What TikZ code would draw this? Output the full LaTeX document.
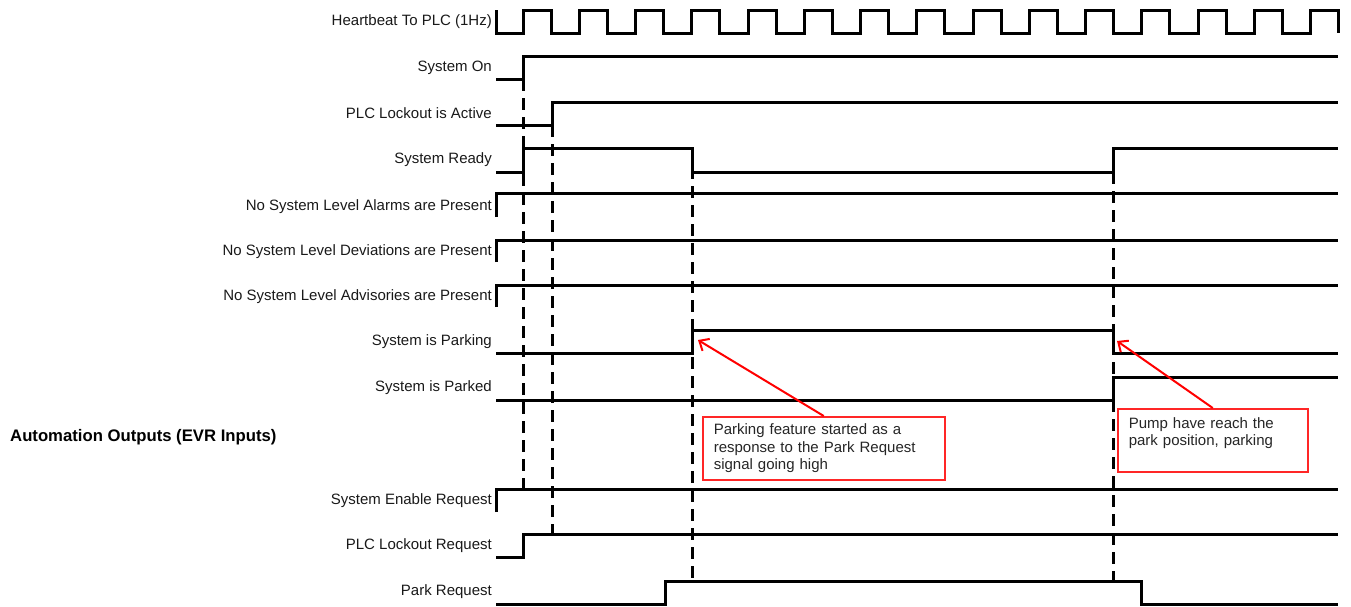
\documentclass[tikz,border=0pt]{standalone}
\usepackage{fontspec}
\setmainfont{Liberation Sans}
\usetikzlibrary{arrows.meta}
\begin{document}
\begin{tikzpicture}[x=1pt,y=-1pt,
  sig/.style={line width=3pt, black, line join=miter},
  guide/.style={line width=3pt, black, dash pattern=on 12pt off 7pt},
  lbl/.style={anchor=east, inner sep=0pt, text=black!90, font=\fontsize{15}{17.5}\selectfont},
  grp/.style={anchor=west, inner sep=0pt, text=black, font=\bfseries\fontsize{16.7}{20}\selectfont},
  annbox/.style={draw=red!85!white, line width=1.5pt, fill=white, anchor=north west,
    inner xsep=11pt, inner ysep=0pt, minimum height=63pt, align=left,
    text=black!85, font=\fontsize{15}{17.5}\selectfont},
  annarrow/.style={red, line width=2pt, -{Straight Barb[length=8pt,width=14pt,line width=2pt]}}
]
\useasboundingbox (0,0) rectangle (1351,606);

% labels
\node[lbl] (lhb)  at (492,22)  {Heartbeat To PLC (1Hz)};
\node[lbl] (lon)  at (492,68)  {System On};
\node[lbl] (llk)  at (492,113) {PLC Lockout is Active};
\node[lbl] (lrdy) at (492,160) {System Ready};
\node[lbl] (lal)  at (492,207) {No System Level Alarms are Present};
\node[lbl] (ldev) at (492,252) {No System Level Deviations are Present};
\node[lbl] (ladv) at (492,297) {No System Level Advisories are Present};
\node[lbl] (lpkg) at (492,342) {System is Parking};
\node[lbl] (lpkd) at (492,388) {System is Parked};
\node[grp] (lauto) at (10,437) {Automation Outputs (EVR Inputs)};
\node[lbl] (len)  at (492,501) {System Enable Request};
\node[lbl] (llr)  at (492,546) {PLC Lockout Request};
\node[lbl] (lpr)  at (492,592) {Park Request};

% guide lines
\draw[guide] (523,79) -- (523,489);
\draw[guide] (552,125) -- (552,534);
\draw[guide] (692,148) -- (692,581);
\draw[guide] (1113,172) -- (1113,581);

% heartbeat
\draw[sig] (496,10) -- (496,33)
  foreach \k in {0,...,14} {
    -- ({523+56.25*\k},33) -- ({523+56.25*\k},10)
    -- ({551+56.25*\k},10) -- ({551+56.25*\k},33) };

% signals
\draw[sig] (496,79) -- (523,79) -- (523,56) -- (1338,56);
\draw[sig] (496,125) -- (552,125) -- (552,102) -- (1338,102);
\draw[sig] (496,172) -- (523,172) -- (523,148) -- (692,148) -- (692,172)
  -- (1113,172) -- (1113,148) -- (1338,148);
\draw[sig] (496,217) -- (496,193) -- (1338,193);
\draw[sig] (496,262) -- (496,240) -- (1338,240);
\draw[sig] (496,307) -- (496,285) -- (1338,285);
\draw[sig] (496,353) -- (692,353) -- (692,330) -- (1113,330) -- (1113,353) -- (1338,353);
\draw[sig] (496,400) -- (1113,400) -- (1113,377) -- (1338,377);
\draw[sig] (496,512) -- (496,489) -- (1338,489);
\draw[sig] (496,557) -- (523,557) -- (523,534) -- (1338,534);
\draw[sig] (496,604) -- (665,604) -- (665,581) -- (1141,581) -- (1141,604) -- (1338,604);

% annotations
\node[annbox, text width=220pt] (ann1) at (702,416)
  {Parking feature started as a\\response to the Park Request\\signal going high};
\node[annbox, text width=168pt] (ann2) at (1117,408)
  {Pump have reach the\\park position, parking\\\mbox{}};
\coordinate (tip1) at (698,340);
\coordinate (tip2) at (1117,341);
\draw[annarrow] (ann1.north) -- (tip1);
\draw[annarrow] (ann2.north) -- (tip2);
\end{tikzpicture}
\end{document}
